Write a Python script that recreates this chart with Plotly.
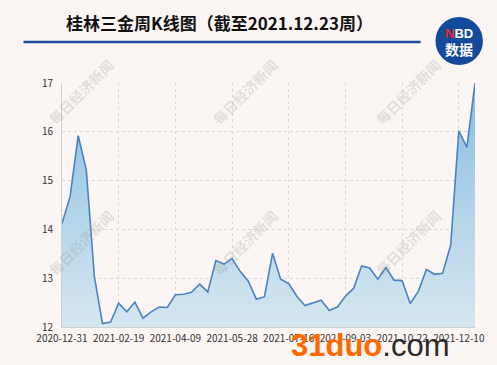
import plotly.graph_objects as go
import datetime as dt

# Weekly dates: first point 2020-12-31, Fridays 2021-01-08..2021-12-17, last 2021-12-23
dates = ["2020-12-31"]
d = dt.date(2021, 1, 8)
while d <= dt.date(2021, 12, 17):
    dates.append(d.isoformat())
    d += dt.timedelta(days=7)
dates.append("2021-12-23")

prices = [14.12, 14.67, 15.92, 15.22, 13.03, 12.07, 12.10, 12.49, 12.31, 12.51,
          12.18, 12.31, 12.41, 12.40, 12.66, 12.67, 12.71, 12.88, 12.72, 13.36,
          13.29, 13.40, 13.14, 12.94, 12.57, 12.62, 13.51, 12.98, 12.89, 12.63,
          12.44, 12.49, 12.55, 12.34, 12.41, 12.63, 12.79, 13.25, 13.21, 12.98,
          13.22, 12.96, 12.95, 12.48, 12.73, 13.18, 13.08, 13.10, 13.68, 16.02,
          15.68, 17.00]

tick_labels = dates[::7]
y_ticks = [12, 13, 14, 15, 16, 17]

title_text = "桂林三金周K线图（截至2021.12.23周）"
watermark = "每日经济新闻"

W, H = 497, 365
ML, MR, MT, MB = 62, 17, 83, 38
PW, PH = W - ML - MR, H - MT - MB


def px(x):
    return (x - ML) / PW


def py(y):
    return (H - MB - y) / PH


BG = "#fbf5f3"
fig = go.Figure()
fig.add_trace(go.Scatter(
    x=dates, y=prices, mode="lines",
    line=dict(color="#4a82c3", width=1.6),
    fill="tozeroy",
    fillgradient=dict(type="vertical", start=12, stop=17,
                      colorscale=[[0, "#d6e6ef"], [0.4, "#b8d7ea"], [1, "#86bde0"]]),
    hoverinfo="skip",
))

fig.update_layout(
    width=W, height=H,
    margin=dict(l=ML, r=MR, t=MT, b=MB),
    paper_bgcolor=BG, plot_bgcolor=BG,
    showlegend=False,
    font=dict(family="Noto Sans CJK SC, Noto Sans, sans-serif", color="#333333", size=10),
    xaxis=dict(type="category", range=[0, len(dates) - 1],
               tickvals=tick_labels, ticktext=tick_labels,
               showgrid=True, gridcolor="#d8d8d8", griddash="dot", gridwidth=1,
               showline=True, linecolor="#d0d0d0", linewidth=1,
               ticks="", tickfont=dict(size=10, color="#333"), ticklabelstandoff=2),
    yaxis=dict(range=[12, 17], tickvals=y_ticks,
               showgrid=True, gridcolor="#d8d8d8", griddash="dot", gridwidth=1,
               showline=True, linecolor="#d0d0d0", linewidth=1,
               zeroline=False, ticks="", tickfont=dict(size=10, color="#333"),
               ticklabelstandoff=6),
)

annotations = []
shapes = []

# Title
annotations.append(dict(text="<b>" + title_text + "</b>", xref="paper", yref="paper",
                        x=px(221), y=py(23), showarrow=False,
                        xanchor="center", yanchor="middle",
                        font=dict(size=17, color="#111111",
                                  family="Noto Sans CJK SC, sans-serif")))

# Blue rule under title
shapes.append(dict(type="line", xref="paper", yref="paper",
                   x0=px(23), x1=px(425), y0=py(42), y1=py(42),
                   line=dict(color="#1f4f9e", width=2.5)))

# NBD logo circle
cx, cy, r = 464, 41, 24
shapes.append(dict(type="circle", xref="paper", yref="paper",
                   x0=px(cx - r), x1=px(cx + r),
                   y0=py(cy + r), y1=py(cy - r),
                   fillcolor="#134a9c", line=dict(width=0)))
annotations.append(dict(text="<b><span style='color:#e8262a'>N</span>BD</b>",
                        xref="paper", yref="paper", x=px(cx), y=py(33),
                        showarrow=False, xanchor="center", yanchor="middle",
                        font=dict(size=13, color="white", family="Liberation Sans, Arial, sans-serif")))
annotations.append(dict(text="<b>数据</b>",
                        xref="paper", yref="paper", x=px(cx), y=py(49),
                        showarrow=False, xanchor="center", yanchor="middle",
                        font=dict(size=14, color="white", family="Noto Sans CJK SC, sans-serif")))

# Watermarks
for wx in (81, 247, 412):
    for wy in (92, 243):
        annotations.append(dict(text="<b>" + watermark + "</b>", xref="paper", yref="paper",
                                x=px(wx), y=py(wy), showarrow=False,
                                textangle=-45, xanchor="center", yanchor="middle",
                                font=dict(size=14, color="rgba(150,150,150,0.25)",
                                          family="Noto Sans CJK SC, sans-serif")))

# Site watermark
annotations.append(dict(text="<b><span style='color:#ff6a00'>31duo</span></b><span style='color:#2a2a2a'>.com</span>",
                        xref="paper", yref="paper", x=px(292), y=py(345),
                        showarrow=False, xanchor="left", yanchor="middle",
                        font=dict(size=31, family="Liberation Sans, Arial, sans-serif")))

fig.update_layout(annotations=annotations, shapes=shapes)
fig.write_html("out.html")
